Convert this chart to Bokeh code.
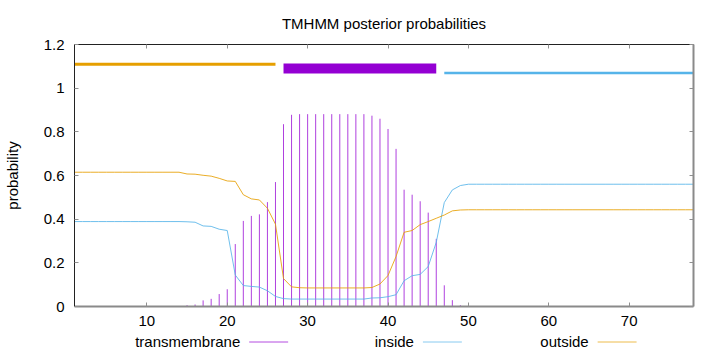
from bokeh.plotting import figure
from bokeh.models import Range1d, FixedTicker, LinearAxis, CustomJSTickFormatter
from bokeh.layouts import column
from bokeh.embed import file_html
from bokeh.resources import INLINE
from bokeh.core.properties import value

# ---------------- data ----------------
positions = list(range(1, 79))

transmembrane = [
    0, 0, 0, 0, 0, 0, 0, 0, 0, 0, 0, 0, 0, 0,
    0.006, 0.009, 0.028, 0.035, 0.057, 0.079,
    0.286, 0.392, 0.415, 0.422, 0.478, 0.570,
    0.835, 0.878, 0.881, 0.881, 0.881, 0.881, 0.881, 0.881, 0.881, 0.881, 0.881,
    0.874, 0.860, 0.813, 0.722, 0.535, 0.512, 0.482, 0.430, 0.310, 0.097, 0.029, 0.006,
    0, 0, 0, 0, 0, 0, 0, 0, 0, 0, 0, 0, 0, 0, 0, 0, 0, 0, 0, 0, 0, 0, 0, 0, 0, 0, 0, 0, 0,
]

inside = [
    0.389, 0.389, 0.389, 0.389, 0.389, 0.389, 0.389, 0.389, 0.389, 0.389, 0.389, 0.389, 0.389, 0.389,
    0.388, 0.386, 0.369, 0.367, 0.354, 0.348,
    0.144, 0.096, 0.092, 0.089, 0.072, 0.046,
    0.036, 0.034, 0.034, 0.034, 0.034, 0.034, 0.034, 0.034, 0.034, 0.034, 0.034,
    0.039, 0.040, 0.045, 0.054, 0.118, 0.141, 0.147, 0.183, 0.294, 0.476, 0.534, 0.554,
    0.560, 0.560, 0.560, 0.560, 0.560, 0.560, 0.560, 0.560, 0.560, 0.560, 0.560, 0.560, 0.560, 0.560,
    0.560, 0.560, 0.560, 0.560, 0.560, 0.560, 0.560, 0.560, 0.560, 0.560, 0.560, 0.560, 0.560, 0.560, 0.560,
]

outside = [
    0.615, 0.615, 0.615, 0.615, 0.615, 0.615, 0.615, 0.615, 0.615, 0.615, 0.615, 0.615, 0.615, 0.615,
    0.607, 0.606, 0.601, 0.597, 0.587, 0.575,
    0.573, 0.512, 0.493, 0.488, 0.450, 0.377,
    0.128, 0.090, 0.086, 0.085, 0.085, 0.085, 0.085, 0.085, 0.085, 0.085, 0.085,
    0.087, 0.103, 0.142, 0.229, 0.340, 0.348, 0.375, 0.389, 0.404, 0.419, 0.438, 0.442,
    0.443, 0.443, 0.443, 0.443, 0.443, 0.443, 0.443, 0.443, 0.443, 0.443, 0.443, 0.443, 0.443, 0.443,
    0.443, 0.443, 0.443, 0.443, 0.443, 0.443, 0.443, 0.443, 0.443, 0.443, 0.443, 0.443, 0.443, 0.443, 0.443,
]

# predicted topology (top bars)
topo_names = ["outside", "TMhelix", "inside"]
topo_start = [1, 27, 47]
topo_end = [26, 46, 78]
topo_level = [1.11, 1.09, 1.07]

x_ticks = [10, 20, 30, 40, 50, 60, 70]
y_ticks = [0, 0.2, 0.4, 0.6, 0.8, 1.0, 1.2]
legend_labels = ["transmembrane", "inside", "outside"]

# ---------------- styles ----------------
C_TM = "#9400D3"
C_IN = "#56B4E9"
C_OUT = "#E69F00"
topo_colors = {"outside": C_OUT, "TMhelix": C_TM, "inside": C_IN}
topo_widths = {"outside": 3, "TMhelix": 10, "inside": 2.5}
FONT = "Liberation Sans"
FS = "15px"

p = figure(width=720, height=330, x_range=Range1d(1, 78), y_range=Range1d(0, 1.2),
           output_backend="svg", toolbar_location=None,
           min_border_left=73, min_border_right=27, min_border_top=44, min_border_bottom=24,
           title="TMHMM posterior probabilities")
p.outline_line_color = None
p.xgrid.visible = False
p.ygrid.visible = False
p.background_fill_color = "white"
p.border_fill_color = "white"

p.title.align = "center"
p.title.text_font = FONT
p.title.text_font_size = FS
p.title.text_font_style = "normal"
p.title.text_color = "black"
p.title.standoff = 25

fmt_y = CustomJSTickFormatter(code="return String(Math.round(tick*10)/10);")
blank = CustomJSTickFormatter(code="return '';")

def style_axis(ax, ticks, line_color, line_width):
    ax.ticker = FixedTicker(ticks=ticks)
    ax.major_tick_in = 4
    ax.major_tick_out = 0
    ax.minor_tick_line_color = None
    ax.major_tick_line_color = "#909090"
    ax.axis_line_color = line_color
    ax.axis_line_width = line_width
    ax.major_label_text_font = FONT
    ax.major_label_text_font_size = FS
    ax.major_label_text_color = "black"

xa = p.xaxis[0]
style_axis(xa, x_ticks, "#8a8a8a", 2)
xa.major_label_standoff = 9

ya = p.yaxis[0]
style_axis(ya, y_ticks, "#222222", 1)
ya.formatter = fmt_y
ya.major_label_standoff = 10
ya.axis_label = "probability"
ya.axis_label_text_font = FONT
ya.axis_label_text_font_size = FS
ya.axis_label_text_font_style = "normal"
ya.axis_label_text_color = "black"
ya.axis_label_standoff = 20

ra = LinearAxis(formatter=blank)
style_axis(ra, y_ticks, "#8a8a8a", 2)
ra.major_label_standoff = 0
p.add_layout(ra, "right")

ta = LinearAxis(formatter=blank)
style_axis(ta, x_ticks, "#222222", 1)
ta.major_label_standoff = 0
p.add_layout(ta, "above")

# impulses for transmembrane probability
p.segment(x0=positions, y0=[0] * len(positions), x1=positions, y1=transmembrane,
          line_color=C_TM, line_width=1, line_alpha=0.75)
p.line(positions, inside, line_color=C_IN, line_width=1, line_alpha=0.85)
p.line(positions, outside, line_color=C_OUT, line_width=1, line_alpha=0.85)

# topology bars at top
for name, s, e, lv in zip(topo_names, topo_start, topo_end, topo_level):
    p.segment(x0=[s], y0=[lv], x1=[e], y1=[lv], line_color=topo_colors[name],
              line_width=topo_widths[name], line_cap="butt")

# ---------------- legend strip (x in page pixels, frame aligned with main plot) ----------------
lg = figure(width=720, height=22, x_range=Range1d(73, 693), y_range=Range1d(0, 22),
            output_backend="svg", toolbar_location=None,
            min_border_left=73, min_border_right=27, min_border_top=0, min_border_bottom=0)
lg.outline_line_color = None
lg.axis.visible = False
lg.xgrid.visible = False
lg.ygrid.visible = False
leg_right = [239, 413, 588]
leg_colors = [C_TM, C_IN, C_OUT]
lg.text(x=leg_right, y=[11, 11, 11], text=legend_labels, text_align="right",
        text_baseline="middle", text_font=value(FONT), text_font_size=value(FS),
        text_color="black")
lg.segment(x0=[r + 9 for r in leg_right], y0=[10.5] * 3, x1=[r + 48 for r in leg_right],
           y1=[10.5] * 3, line_color=leg_colors, line_width=1, line_alpha=0.7)

layout = column(p, lg, spacing=0)
open("out.html", "w").write(file_html(layout, INLINE))
